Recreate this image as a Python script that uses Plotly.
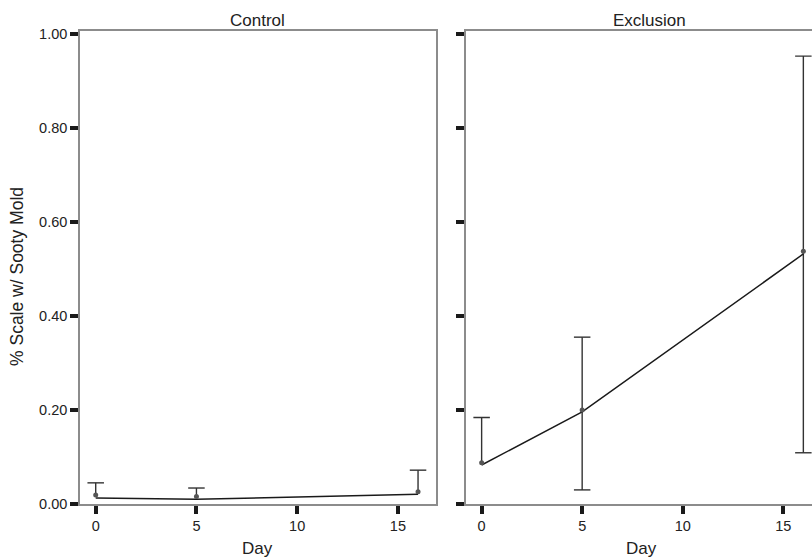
import plotly.graph_objects as go

# ---- data ----
days = [0, 5, 16]
panels = ["Control", "Exclusion"]

control_mean = [0.019, 0.016, 0.026]
control_line = [0.013, 0.010, 0.021]
control_upper = [0.045, 0.034, 0.072]
control_lower = [None, None, None]

exclusion_mean = [0.088, 0.200, 0.538]
exclusion_line = [0.083, 0.196, 0.532]
exclusion_upper = [0.184, 0.355, 0.953]
exclusion_lower = [None, 0.030, 0.109]

y_tick_vals = [0.0, 0.2, 0.4, 0.6, 0.8, 1.0]
y_tick_text = ["0.00", "0.20", "0.40", "0.60", "0.80", "1.00"]
x_tick_vals = [0, 5, 10, 15]
x_tick_text = ["0", "5", "10", "15"]

y_title = "% Scale w/ Sooty Mold"
x_title = "Day"

# ---- styling ----
FONT = "Liberation Sans, Arial, sans-serif"
FRAME = "#8c8c8c"
TICK = "#1a1a1a"
TXT = "#222222"
CAP = 0.41  # half-width of error caps in days


def whiskers(x, mean, lo, hi, cap):
    xs, ys = [], []
    for xi, m, l, h in zip(x, mean, lo, hi):
        bottom = l if l is not None else m
        xs += [xi, xi, None, xi - cap, xi + cap, None]
        ys += [bottom, h, None, h, h, None]
        if l is not None:
            xs += [xi - cap, xi + cap, None]
            ys += [l, l, None]
    return xs, ys


fig = go.Figure()

series = [
    (control_mean, control_line, control_lower, control_upper, "x", "y"),
    (exclusion_mean, exclusion_line, exclusion_lower, exclusion_upper, "x2", "y2"),
]

for mean, line, lo, hi, xa, ya in series:
    wx, wy = whiskers(days, mean, lo, hi, CAP)
    fig.add_trace(go.Scatter(x=wx, y=wy, mode="lines", xaxis=xa, yaxis=ya,
                             line=dict(color="#333333", width=1.4),
                             hoverinfo="skip", showlegend=False))
    fig.add_trace(go.Scatter(x=days, y=line, mode="lines", xaxis=xa, yaxis=ya,
                             line=dict(color="#1a1a1a", width=1.5),
                             showlegend=False))
    fig.add_trace(go.Scatter(x=days, y=mean, mode="markers", xaxis=xa, yaxis=ya,
                             marker=dict(color="#555555", size=5),
                             showlegend=False))

common_x = dict(
    tickmode="array", tickvals=x_tick_vals, ticktext=x_tick_text,
    ticks="outside", ticklen=8, tickwidth=3.5, tickcolor=TICK,
    showline=True, linecolor=FRAME, linewidth=1.6, mirror=True,
    showgrid=False, zeroline=False,
    tickfont=dict(family=FONT, size=14.5, color=TXT),
)
common_y = dict(
    tickmode="array", tickvals=y_tick_vals, ticktext=y_tick_text,
    ticks="outside", ticklen=8, tickwidth=3.5, tickcolor=TICK,
    showline=True, linecolor=FRAME, linewidth=1.6,
    showgrid=False, zeroline=False, range=[0, 1.0064],
    tickfont=dict(family=FONT, size=14.5, color=TXT),
)

fig.update_layout(
    width=812, height=558,
    margin=dict(l=80, r=0, t=31, b=54),
    paper_bgcolor="white", plot_bgcolor="white",
    font=dict(family=FONT, color=TXT),
    xaxis=dict(common_x, domain=[0, 0.4863], range=[-0.78, 16.89], anchor="y"),
    xaxis2=dict(common_x, domain=[0.5267, 1], range=[-0.80, 16.43], anchor="y2"),
    yaxis=dict(common_y, anchor="x", mirror=True),
    yaxis2=dict(common_y, anchor="x2", mirror=False, showticklabels=False),
)

# panel titles
for name, xa in zip(panels, ["x", "x2"]):
    fig.add_annotation(text=name, xref=f"{xa} domain", yref="paper",
                       x=0.5 if xa == "x" else 0.53, y=1, xanchor="center",
                       yanchor="bottom", showarrow=False, yshift=-1,
                       font=dict(family=FONT, size=17, color=TXT))
# x titles
fig.add_annotation(text=x_title, xref="x", yref="paper", x=8.05, y=0,
                   xanchor="center", yanchor="top", yshift=-33, showarrow=False,
                   font=dict(family=FONT, size=17, color=TXT))
fig.add_annotation(text=x_title, xref="x2", yref="paper", x=7.95, y=0,
                   xanchor="center", yanchor="top", yshift=-33, showarrow=False,
                   font=dict(family=FONT, size=17, color=TXT))
# y title
fig.add_annotation(text=y_title, xref="paper", yref="paper", x=-63 / 732, y=0.48,
                   xanchor="center", yanchor="middle", textangle=-90,
                   showarrow=False, font=dict(family=FONT, size=17.5, color=TXT))

fig.write_html("out.html")
